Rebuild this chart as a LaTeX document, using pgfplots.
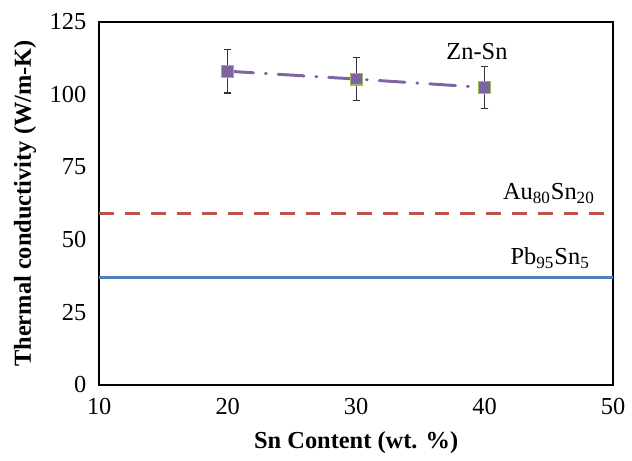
\documentclass[border=0pt]{standalone}
\usepackage{fontspec}
\setmainfont{Liberation Serif}
\usepackage{pgfplots}
\pgfplotsset{compat=1.18}

\definecolor{znsn}{HTML}{8064A2}
\definecolor{mkedge}{HTML}{9BBB59}
\definecolor{ausn}{HTML}{C0504D}
\definecolor{pbsn}{HTML}{4F81BD}

\begin{document}
\begin{tikzpicture}
\begin{axis}[
    scale only axis,
    width=259pt, height=183pt,
    xmin=10, xmax=50, ymin=0, ymax=125,
    xtick={10,20,30,40,50},
    ytick={0,25,50,75,100,125},
    major tick length=0pt,
    axis line style={black, line width=0.8pt},
    tick label style={font=\fontsize{12.3}{14}\selectfont},
    /pgf/number format/assume math mode=true,
    xticklabel style={yshift=-3pt},
    yticklabel style={xshift=-3pt},
    xlabel={\textbf{Sn Content (wt. \%)}},
    ylabel={\textbf{Thermal conductivity (W/m-K)}},
    label style={font=\fontsize{12.3}{14}\selectfont},
    xlabel style={yshift=-2pt},
    ylabel style={yshift=0pt},
    clip=false,
]
% Au80Sn20 reference
\addplot[ausn, line width=1.5pt, dash pattern=on 7.5pt off 5.5pt] coordinates {(10,59) (50,59)};
% Pb95Sn5 reference
\addplot[pbsn, line width=1.5pt] coordinates {(10,37) (50,37)};
% Zn-Sn error bars
\addplot[draw=none, mark=none,
    error bars/.cd, y dir=both, y explicit,
    error bar style={black!80, line width=0.6pt, solid},
    error mark options={rotate=90, mark size=1.8pt, black!80, line width=0.6pt}]
  coordinates {
    (20,108) +- (0,7.5)
    (30,105.3) +- (0,7.3)
    (40,102.4) +- (0,7.3)
  };
% Zn-Sn measured
\addplot[znsn, line width=1.5pt, line cap=round,
    dash pattern=on 13pt off 6pt on 0.5pt off 6pt,
    mark=square*, mark size=3pt,
    mark options={solid, fill=znsn, draw=mkedge, line width=0.6pt}]
  coordinates {
    (20,108)
    (30,105.3)
    (40,102.4)
  };
\node[font=\fontsize{12.3}{14}\selectfont] at (axis cs:39.4,114.8) {Zn-Sn};
\node[font=\fontsize{12.3}{14}\selectfont] at (axis cs:45.0,65.9) {Au\textsubscript{80}Sn\textsubscript{20}};
\node[font=\fontsize{12.3}{14}\selectfont] at (axis cs:45.1,43.7) {Pb\textsubscript{95}Sn\textsubscript{5}};
\end{axis}
\path ([xshift=-50pt,yshift=-33.5pt]current axis.south west) rectangle ([xshift=7pt,yshift=11pt]current axis.north east);
\end{tikzpicture}
\end{document}
